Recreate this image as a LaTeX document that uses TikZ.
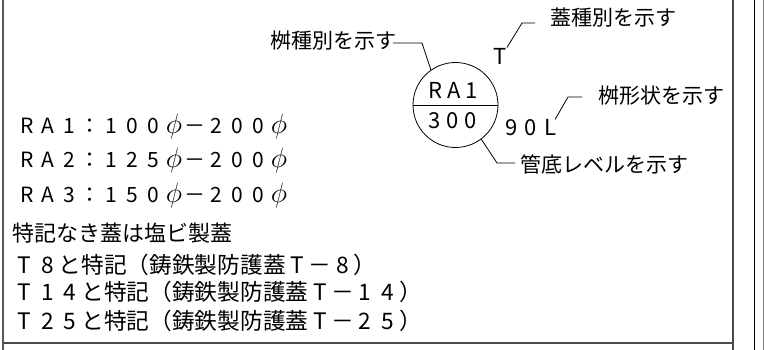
\documentclass[tikz,border=0pt]{standalone}
\usepackage{fontspec}
\setmainfont{Noto Sans CJK JP}
\usetikzlibrary{calc}

% one fixed cell per character
\newcommand\wide[2][1em]{\def\cellw{#1}\widecell#2\relax}
\def\widecell#1{\ifx#1\relax\else\makebox[\cellw]{#1}\expandafter\widecell\fi}
\newcommand\dia{\raisebox{-0.5pt}{\scalebox{1.35}{$\phi$}}}

\tikzset{
  spec/.style={font=\fontsize{21}{21}\selectfont, inner sep=0pt, anchor=west},
  memo/.style={font=\fontsize{22}{22}\selectfont, inner sep=0pt, anchor=west},
  tmemo/.style={font=\fontsize{22.7}{22.7}\selectfont, inner sep=0pt, anchor=west},
  lbl/.style={font=\fontsize{21}{21}\selectfont, inner sep=0pt},
  sym/.style={font=\fontsize{22}{22}\selectfont, inner sep=0pt}
}

\begin{document}
\begin{tikzpicture}[x=1pt,y=-1pt,line width=0.8pt]
\useasboundingbox (0,0) rectangle (764,350);
% frame lines
\draw[gray!70!black,line width=1.5pt] (3,0) -- (3,350);
\draw[gray!60!black,line width=1.2pt] (3,343) -- (733,343);
\draw[gray!60!black,line width=1.2pt] (733,0) -- (733,350);
\draw (754.5,0) -- (754.5,350);
\draw[gray,line width=1pt] (763.3,0) -- (763.3,350);

% manhole symbol
\node[draw,circle,minimum size=85pt,inner sep=0pt] (mh) at (455.5,105) {};
\draw (mh.west) -- (mh.east);
\node[sym] (mhtype) at (454,90) {\wide[0.82em]{RA1}};
\node[sym] (mhlevel) at (453,121) {\wide[0.82em]{300}};
\node[sym] (lid) at (500,56) {T};
\node[sym] (shape) at (531,128) {\wide[0.9em]{90L}};

% explanations
\node[lbl,anchor=east] (mhkind) at (397,41) {桝種別を示す};
\node[lbl,anchor=west] (lidkind) at (550,18) {蓋種別を示す};
\node[lbl,anchor=west] (mhshape) at (598,96) {桝形状を示す};
\node[lbl,anchor=west] (invert) at (520,164) {管底レベルを示す};

\draw ($(mhkind.east)+(-4,2)$) -- ++(29,0) -- (mh.125);
\draw (lid.north east) -- ($(lidkind.west)+(-28,5)$) -- ++(13,0);
\draw ($(shape.north east)+(-6,0)$) -- ($(mhshape.west)+(-30,1)$) -- ++(14,0);
\draw (mh.-53) -- ($(invert.west)+(-23,-1)$) -- ++(18,0);

% notes
\node[spec] (ra1) at (16,127) {\wide{RA1：100\dia－200\dia}};
\node[spec] (ra2) at (16,161) {\wide{RA2：125\dia－200\dia}};
\node[spec] (ra3) at (16,196) {\wide{RA3：150\dia－200\dia}};
\node[memo] (pvc) at (12,233) {特記なき蓋は塩ビ製蓋};
\node[tmemo] (t8) at (13,265) {\wide{T8}と特記（鋳鉄製防護蓋\wide{T－8}）};
\node[tmemo] (t14) at (13,292) {\wide{T14}と特記（鋳鉄製防護蓋\wide{T－14}）};
\node[tmemo] (t25) at (13,321) {\wide{T25}と特記（鋳鉄製防護蓋\wide{T－25}）};

\end{tikzpicture}
\end{document}
